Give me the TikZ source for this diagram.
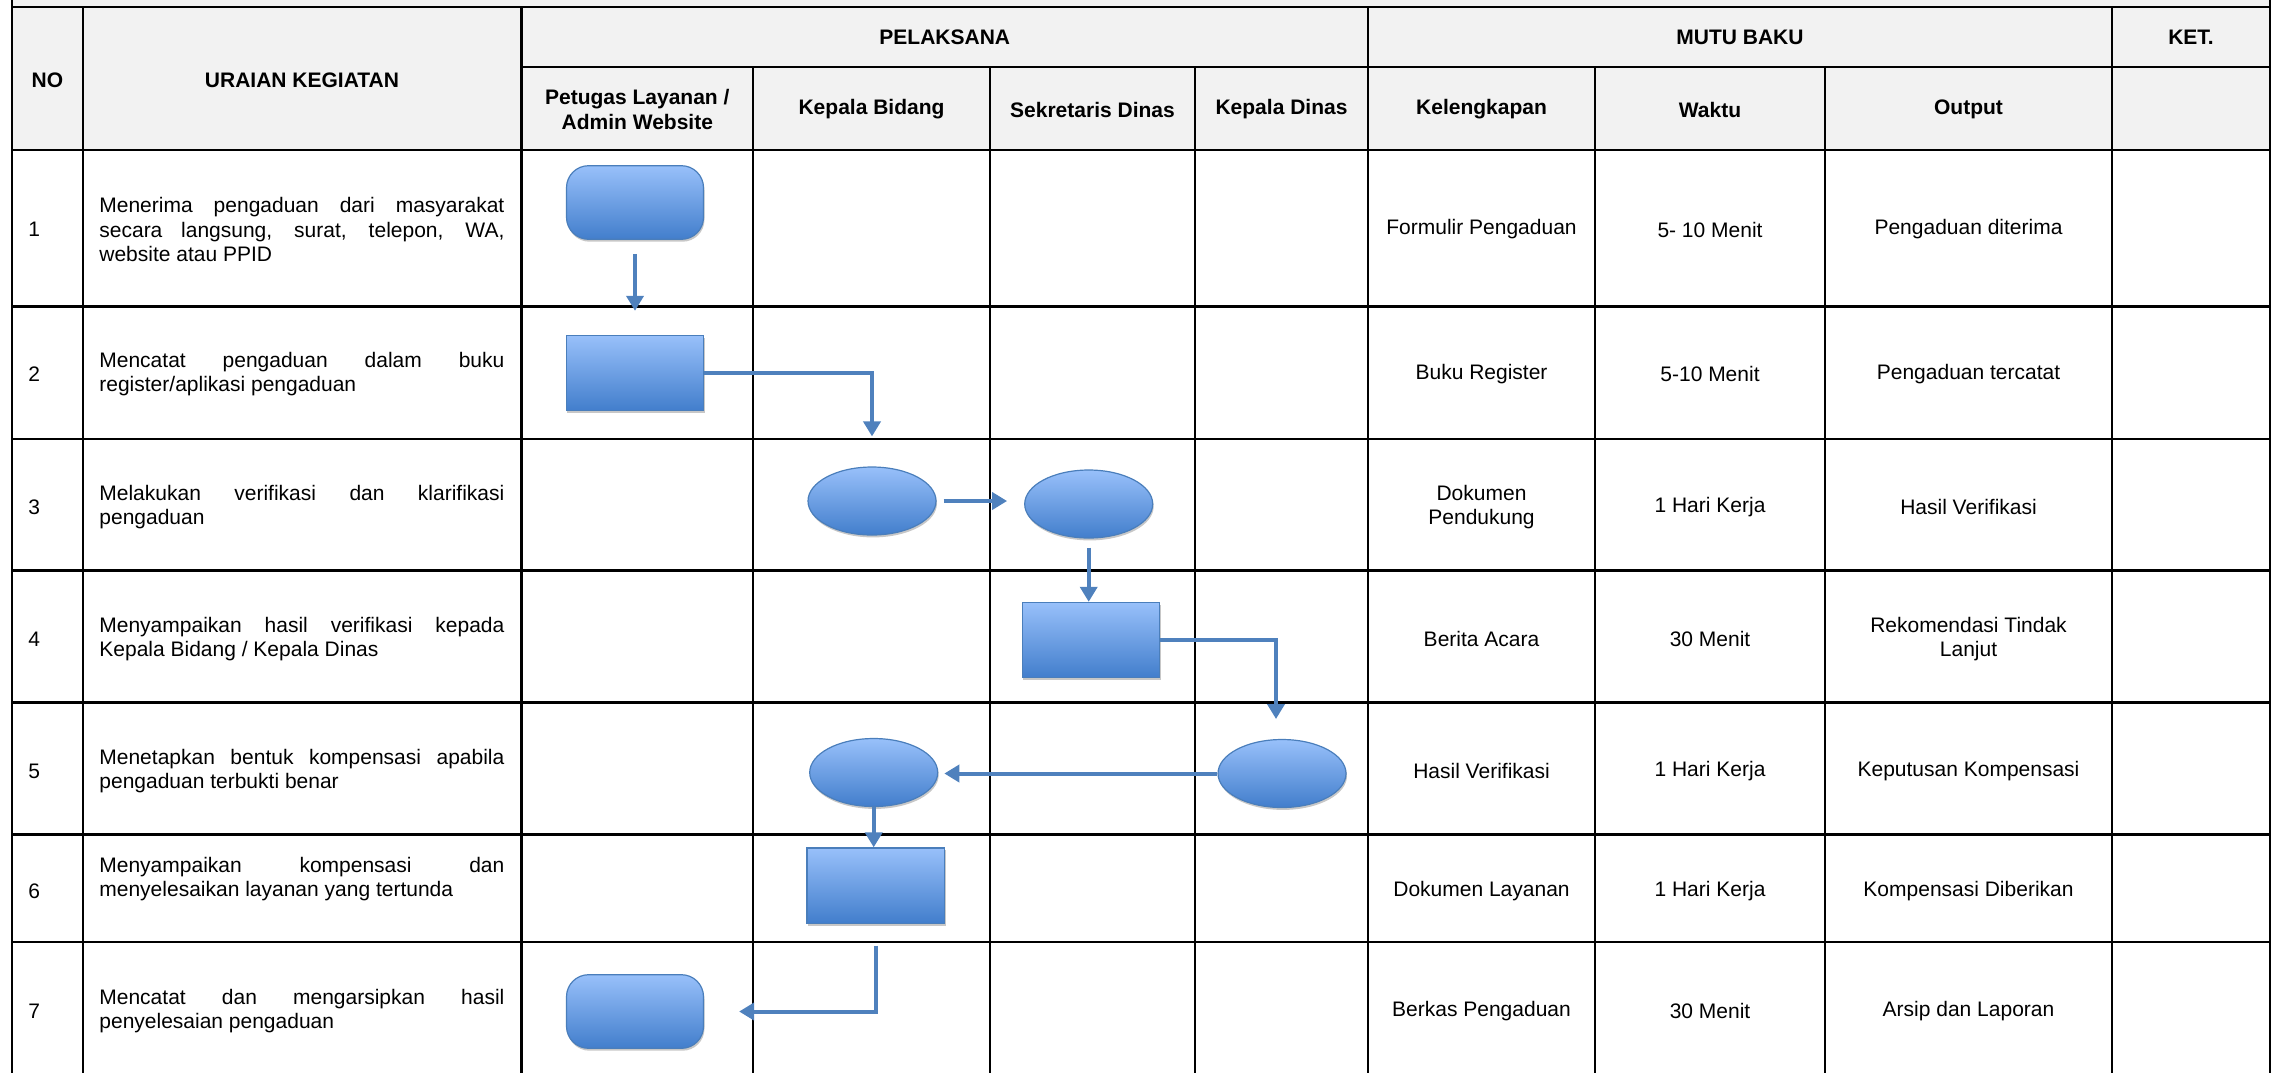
\documentclass[tikz,border=0pt]{standalone}
\usepackage{fontspec}
\setmainfont{Liberation Sans}
\usetikzlibrary{arrows.meta,shadows,shapes.geometric}
\hyphenpenalty=10000
\exhyphenpenalty=10000

\definecolor{headgrey}{RGB}{242,242,242}
\definecolor{flowblue}{RGB}{79,129,189}
\definecolor{boxtop}{RGB}{152,192,250}
\definecolor{boxbottom}{RGB}{66,126,204}
\definecolor{boxline}{RGB}{74,126,187}
\newcommand{\tabfont}{\fontsize{10.5}{12.2}\selectfont}

\tikzset{
	tabline/.style={line width=1.1pt, black},
	headtext/.style={font=\tabfont\bfseries, align=center, inner sep=0pt},
	celltext/.style={font=\tabfont, align=center, inner sep=0pt},
	notext/.style={font=\tabfont, anchor=west, inner sep=0pt},
	desctext/.style={font=\tabfont, anchor=west, inner sep=0pt, text width=202.5pt, align=justify},
	flowshape/.style={draw=boxline, line width=0.6pt, top color=boxtop, bottom color=boxbottom, inner sep=0pt,
		drop shadow={shadow xshift=0.5pt, shadow yshift=-1.2pt, opacity=0.22, fill=black}},
	terminal/.style={flowshape, rectangle, rounded corners=11pt, minimum width=68.5pt, minimum height=36.8pt},
	process/.style={flowshape, rectangle, minimum width=68.8pt, minimum height=37.6pt},
	oval/.style={flowshape, ellipse, minimum width=64pt, minimum height=34pt},
	flow/.style={draw=flowblue, line width=2pt, -{Triangle[length=7.5pt,width=8.5pt]}},
}

\begin{document}
\begin{tikzpicture}[x=0.5pt,y=0.5pt,yscale=-1,xscale=1]
		\useasboundingbox (0,0) rectangle (2279,1073);
		% header background
		\fill [headgrey] (12,0) rectangle (2270,150);
		% table frame
		\draw [tabline] (12,0) -- (12,1073);
		\draw [tabline] (2270,0) -- (2270,1073);
		\draw [tabline] (12,7) -- (2270,7);
		\draw [tabline] (521.5,67) -- (2270,67);
		\draw [tabline] (12,150) -- (2270,150);
		\draw [tabline] (12,306.5) -- (2270,306.5);
		\draw [tabline] (12,439) -- (2270,439);
		\draw [tabline] (12,570.5) -- (2270,570.5);
		\draw [tabline] (12,702.5) -- (2270,702.5);
		\draw [tabline] (12,834.5) -- (2270,834.5);
		\draw [tabline] (12,942) -- (2270,942);
		\draw [tabline] (82.8,7) -- (82.8,1073);
		\draw [tabline] (521.5,7) -- (521.5,1073);
		\draw [tabline] (753,67) -- (753,1073);
		\draw [tabline] (990,67) -- (990,1073);
		\draw [tabline] (1195,67) -- (1195,1073);
		\draw [tabline] (1368,7) -- (1368,1073);
		\draw [tabline] (1595,67) -- (1595,1073);
		\draw [tabline] (1825,67) -- (1825,1073);
		\draw [tabline] (2112,7) -- (2112,1073);

		% header
		\node (hNo) [headtext] at (47.4,80) {NO};
		\node (hUraian) [headtext] at (302,80) {URAIAN KEGIATAN};
		\node (hPelaksana) [headtext] at (944.8,37.5) {PELAKSANA};
		\node (hMutu) [headtext] at (1740,37.5) {MUTU BAKU};
		\node (hKet) [headtext] at (2191,37.5) {KET.};
		\node (hPetugas) [headtext] at (637.3,109.5) {Petugas Layanan /\\Admin Website};
		\node (hKabid) [headtext] at (871.5,109.5) {Kepala Bidang};
		\node (hSekdis) [headtext] at (1092.5,109.5) {Sekretaris Dinas};
		\node (hKadis) [headtext] at (1281.5,109.5) {Kepala Dinas};
		\node (hKel) [headtext] at (1481.5,109.5) {Kelengkapan};
		\node (hWaktu) [headtext] at (1710,109.5) {Waktu};
		\node (hOutput) [headtext] at (1968.5,109.5) {Output};

		% rows
		\node (no1) [notext] at (28,229.5) {1};
		\node (task1) [desctext] at (99,229.5) {Menerima pengaduan dari masyarakat secara langsung, surat, telepon, WA, website atau PPID};
		\node (kel1) [celltext] at (1481.5,229.5) {Formulir Pengaduan};
		\node (wkt1) [celltext] at (1710,229.5) {5- 10 Menit};
		\node (out1) [celltext] at (1968.5,229.5) {Pengaduan diterima};

		\node (no2) [notext] at (28,374) {2};
		\node (task2) [desctext] at (99,374) {Mencatat pengaduan dalam buku register/aplikasi pengaduan};
		\node (kel2) [celltext] at (1481.5,374) {Buku Register};
		\node (wkt2) [celltext] at (1710,374) {5-10 Menit};
		\node (out2) [celltext] at (1968.5,374) {Pengaduan tercatat};

		\node (no3) [notext] at (28,507) {3};
		\node (task3) [desctext] at (99,507) {Melakukan verifikasi dan klarifikasi pengaduan};
		\node (kel3) [celltext] at (1481.5,507) {Dokumen\\Pendukung};
		\node (wkt3) [celltext] at (1710,507) {1 Hari Kerja};
		\node (out3) [celltext] at (1968.5,507) {Hasil Verifikasi};

		\node (no4) [notext] at (28,639) {4};
		\node (task4) [desctext] at (99,639) {Menyampaikan hasil verifikasi kepada Kepala Bidang / Kepala Dinas};
		\node (kel4) [celltext] at (1481.5,639) {Berita Acara};
		\node (wkt4) [celltext] at (1710,639) {30 Menit};
		\node (out4) [celltext] at (1968.5,639) {Rekomendasi Tindak\\Lanjut};

		\node (no5) [notext] at (28,771) {5};
		\node (task5) [desctext] at (99,771) {Menetapkan bentuk kompensasi apabila pengaduan terbukti benar};
		\node (kel5) [celltext] at (1481.5,771) {Hasil Verifikasi};
		\node (wkt5) [celltext] at (1710,771) {1 Hari Kerja};
		\node (out5) [celltext] at (1968.5,771) {Keputusan Kompensasi};

		\node (no6) [notext] at (28,891) {6};
		\node (task6) [desctext] at (99,879) {Menyampaikan kompensasi dan menyelesaikan layanan yang tertunda};
		\node (kel6) [celltext] at (1481.5,891) {Dokumen Layanan};
		\node (wkt6) [celltext] at (1710,891) {1 Hari Kerja};
		\node (out6) [celltext] at (1968.5,891) {Kompensasi Diberikan};

		\node (no7) [notext] at (28,1011) {7};
		\node (task7) [desctext] at (99,1011) {Mencatat dan mengarsipkan hasil penyelesaian pengaduan};
		\node (kel7) [celltext] at (1481.5,1011) {Berkas Pengaduan};
		\node (wkt7) [celltext] at (1710,1011) {30 Menit};
		\node (out7) [celltext] at (1968.5,1011) {Arsip dan Laporan};

		% flow shapes
		\node (terima) [terminal] at (635,202.5) {};
		\node (catat) [process] at (635,373) {};
		\node (verifA) [oval] at (872,501) {};
		\node (verifB) [oval] at (1088.7,504) {};
		\node (lapor) [process] at (1091,640) {};
		\node (tetapKadis) [oval] at (1282,773.5) {};
		\node (tetapKabid) [oval] at (873.7,772.5) {};
		\node (serah) [process] at (875.7,885.5) {};
		\node (arsip) [terminal] at (635,1011.5) {};
		\coordinate (turnKadis) at (1276,740);

		% connectors
		\draw [flow,shorten <=7pt,shorten >=12pt] (terima) -- (catat);
		\draw [flow,shorten >=15pt] (catat.east) -| (verifA.north);
		\draw [flow,shorten <=3.5pt,shorten >=8.5pt] (verifA.east) -- (verifA.east -| verifB.west);
		\draw [flow,shorten <=4.5pt] (verifB.south) -- (verifB.south |- lapor.north);
		\draw [flow,shorten >=10.5pt] (lapor.east) -| (turnKadis);
		\draw [flow,shorten >=3pt] (tetapKadis.west) -- (tetapKadis.west -| tetapKabid.east);
		\draw [flow] (tetapKabid.south) -- (tetapKabid.south |- serah.north);
		\draw [flow,shorten <=11pt,shorten >=17.5pt] (serah.south) |- (arsip.east);
\end{tikzpicture}
\end{document}
